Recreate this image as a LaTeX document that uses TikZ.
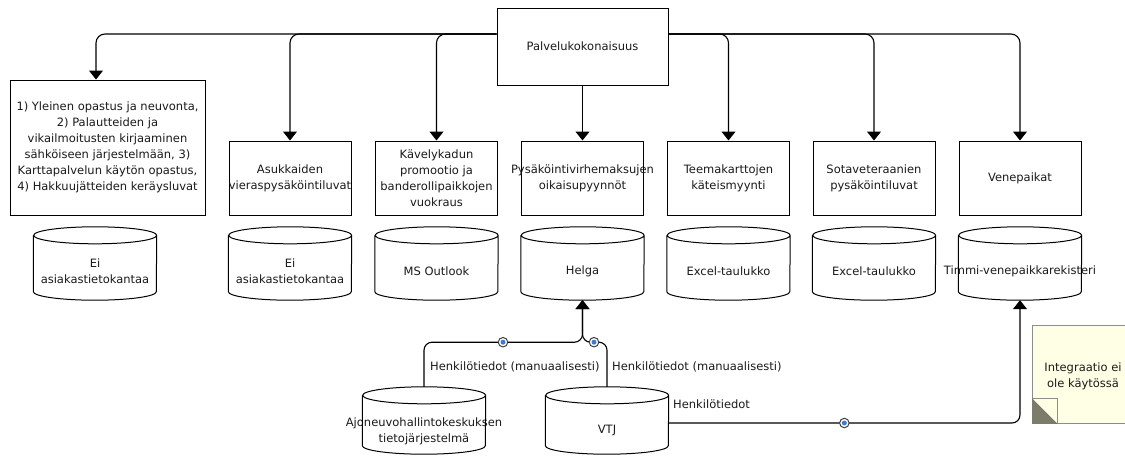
\documentclass[tikz,border=0pt]{standalone}
\usepackage{fontspec}
\setmainfont{DejaVu Sans}
\usetikzlibrary{arrows.meta,calc}
\definecolor{notefill}{HTML}{FFFFE6}
\definecolor{foldgrey}{HTML}{7C7C6A}
\definecolor{ink}{HTML}{1A1A1A}
\definecolor{infoblue}{HTML}{3A7BD5}

% outline of a database cylinder around an empty node of width 123pt
\newcommand\dbshape[1]{%
  \draw[line width=1pt]
    ([yshift=-8.5pt]#1.north west) -- ([yshift=8.5pt]#1.south west)
    arc[start angle=180,end angle=360,x radius=61.5pt,y radius=8.5pt]
    -- ([yshift=-8.5pt]#1.north east)
    arc[start angle=0,end angle=360,x radius=61.5pt,y radius=8.5pt];}

\begin{document}
\begin{tikzpicture}[x=1pt,y=1pt,
  font=\fontsize{11.5}{16}\selectfont,
  every label/.style={align=center,inner sep=0pt,text=ink},
  proc/.style={draw,line width=1pt,minimum width=122pt,minimum height=74pt,inner sep=0pt},
  db/.style={minimum width=123pt,minimum height=73pt,inner sep=0pt},
  dblow/.style={minimum width=123pt,minimum height=67pt,inner sep=0pt},
  flow/.style={line width=1.1pt,rounded corners=9pt,-{Triangle[width=14pt,length=9pt]}},
  lbl/.style={anchor=west,inner sep=0pt,text=ink},
  info/.style={circle,draw=black!75,fill=white,line width=1pt,minimum size=9.5pt,inner sep=0pt,
    path picture={\fill[infoblue] (path picture bounding box.center) circle (2.5pt);}}]

\clip (0,0) rectangle (1125,-456);
\fill[white] (0,0) rectangle (1125,-456);

% service areas
\node[draw,line width=1pt,minimum width=171pt,minimum height=77pt,inner sep=0pt,
  label={center:Palvelukokonaisuus}] (P) at (582.5,-46.5) {};

\node[draw,line width=1pt,minimum width=195pt,minimum height=135pt,inner sep=0pt,
  label={center:{1) Yleinen opastus ja neuvonta,\\2) Palautteiden ja\\vikailmoitusten kirjaaminen\\sähköiseen järjestelmään, 3)\\Karttapalvelun käytön opastus,\\4) Hakkuujätteiden keräysluvat}}] (b1) at (107.5,-147.5) {};
\node[proc,label={center:{Asukkaiden\\vieraspysäköintiluvat}}] (b2) at (290,-178) {};
\node[proc,label={center:{Kävelykadun\\promootio ja\\banderollipaikkojen\\vuokraus}}] (b3) at (436.5,-178) {};
\node[proc,label={center:{Pysäköintivirhemaksujen\\oikaisupyynnöt}}] (b4) at (582.5,-178) {};
\node[proc,label={center:{Teemakarttojen\\käteismyynti}}] (b5) at (728.5,-178) {};
\node[proc,label={center:{Sotaveteraanien\\pysäköintiluvat}}] (b6) at (874,-178) {};
\node[proc,label={center:Venepaikat}] (b7) at (1020,-178) {};

% information systems
\node[db,label={[yshift=-8pt]center:{Ei\\asiakastietokantaa}}] (c1) at (95,-263.5) {};
\node[db,label={[yshift=-8pt]center:{Ei\\asiakastietokantaa}}] (c2) at (290,-263.5) {};
\node[db,label={[yshift=-8pt]center:{MS Outlook}}] (c3) at (436.5,-263.5) {};
\node[db,label={[yshift=-8pt]center:{Helga}}] (c4) at (582.5,-263.5) {};
\node[db,label={[yshift=-8pt]center:{Excel-taulukko}}] (c5) at (728.5,-263.5) {};
\node[db,label={[yshift=-8pt]center:{Excel-taulukko}}] (c6) at (874,-263.5) {};
\node[db,label={[yshift=-8pt]center:{Timmi-venepaikkarekisteri}}] (c7) at (1020,-263.5) {};
\node[dblow,label={[yshift=-10.5pt]center:{Ajoneuvohallintokeskuksen\\tietojärjestelmä}}] (ajo) at (424,-420.5) {};
\node[dblow,label={[yshift=-9.5pt]center:{VTJ}}] (vtj) at (607,-420.5) {};
\foreach \c in {c1,c2,c3,c4,c5,c6,c7,ajo,vtj} {\dbshape{\c}}

% annotation
\node[draw=black!45,fill=notefill,line width=0.8pt,minimum width=112pt,minimum height=98pt,
  inner sep=0pt,anchor=north west] (note) at (1032,-325) {};
\node[align=center,inner sep=0pt,text=ink] (notetext) at (1083,-376) {Integraatio ei\\ole käytössä};
\draw[draw=black!45,fill=notefill,line width=0.8pt] (note.south west) rectangle ++(25,25);
\fill[foldgrey] ([yshift=25pt]note.south west) -- ([xshift=25pt]note.south west) -- (note.south west) -- cycle;
\draw[black!60,line width=0.6pt] ([yshift=25pt]note.south west) -- ([xshift=25pt]note.south west);

% service area links
\coordinate (pl) at ([yshift=12.5pt]P.west);
\coordinate (pr) at ([yshift=12.5pt]P.east);
\draw[flow] (pl) -| ([xshift=-11.5pt]b1.north);
\draw[flow] (pl) -| (b2.north);
\draw[flow] (pl) -| (b3.north);
\draw[flow] (P.south) -- (b4.north);
\draw[flow] (pr) -| (b5.north);
\draw[flow] (pr) -| (b6.north);
\draw[flow] (pr) -| (b7.north);

% data transfers
\coordinate (hj) at ($(c4.south)+(0,-42)$);
\draw[flow,rounded corners=8pt] (ajo.north) |- (hj) -- (c4.south);
\draw[flow,rounded corners=8pt] (vtj.north) |- (hj) -- (c4.south);
\draw[flow,rounded corners=8pt] ([yshift=-2.5pt]vtj.east) -| (c7.south)
  node[info,pos=0.25] (i3) {};
\node[info] (i1) at ($(hj)+(-79.5,0)$) {};
\node[info] (i2) at ($(hj)+(11.5,0)$) {};

\node[lbl] (l1) at (430,-367) {Henkilötiedot (manuaalisesti)};
\node[lbl] (l2) at (612,-367) {Henkilötiedot (manuaalisesti)};
\node[lbl] (l3) at (673,-404) {Henkilötiedot};
\end{tikzpicture}
\end{document}
